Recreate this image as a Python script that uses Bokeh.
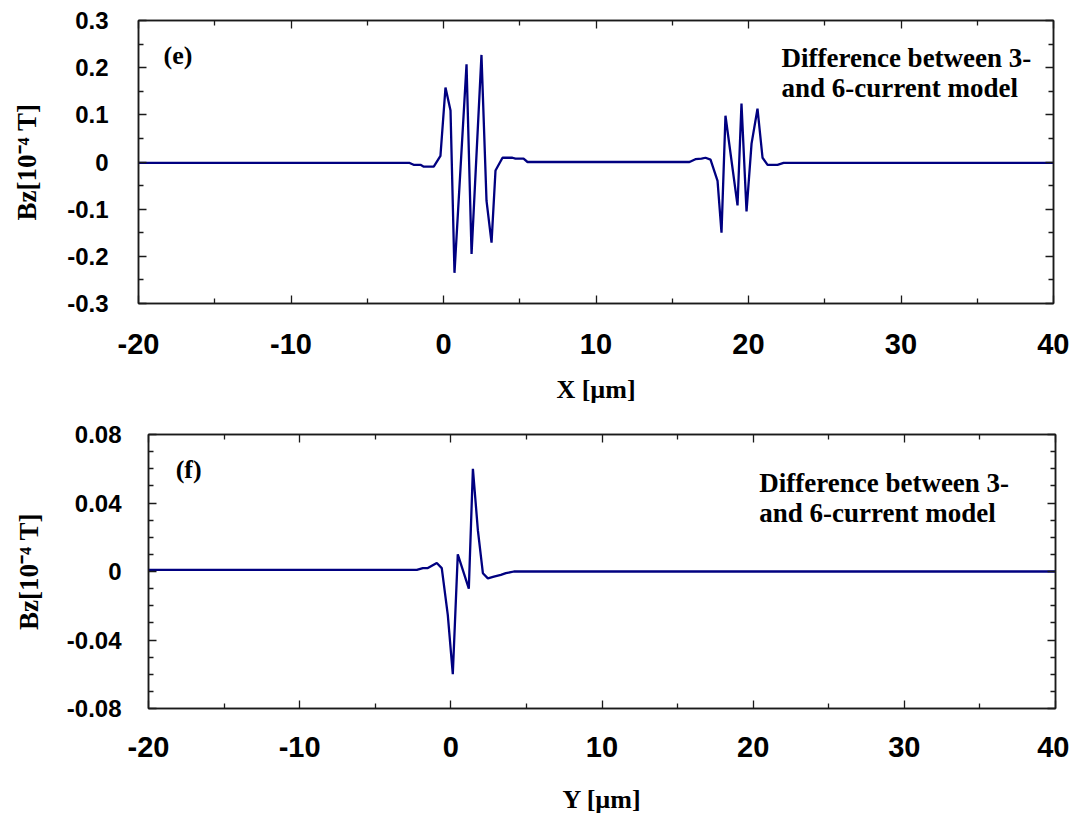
from bokeh.plotting import figure
from bokeh.models import (LinearAxis, FixedTicker, CustomJSTickFormatter,
                          Label, Range1d)
from bokeh.embed import file_html
from bokeh.resources import INLINE

# ---- data ----
x_e = [-20, -2.6, -2.22, -1.96, -1.51, -1.29, -0.64, -0.20, 0.13, 0.46, 0.72, 1.51, 1.84,
       2.49, 2.82, 3.15, 3.41, 3.87, 4.52, 4.72, 5.25, 5.51,
       16.13, 16.52, 16.92, 17.18, 17.51, 17.97, 18.23, 18.49, 19.28, 19.54, 19.87,
       20.20, 20.59, 20.92, 21.25, 21.90, 22.30, 40]
bz_e = [-0.002, -0.002, -0.002, -0.006, -0.006, -0.010, -0.010, 0.013, 0.158, 0.109, -0.235, 0.207, -0.195,
        0.227, -0.082, -0.171, -0.018, 0.009, 0.009, 0.007, 0.007, 0.0,
        0.0, 0.006, 0.007, 0.009, 0.005, -0.040, -0.150, 0.098, -0.092, 0.124, -0.105,
        0.039, 0.113, 0.009, -0.006, -0.006, -0.002, -0.002]

y_f = [-20, -2.25, -1.85, -1.52, -0.93, -0.60, -0.20, 0.13, 0.46, 1.19, 1.46, 1.79,
       2.12, 2.45, 2.85, 3.31, 3.64, 4.17, 40]
bz_f = [0.001, 0.001, 0.002, 0.002, 0.005, 0.002, -0.0255, -0.060, 0.010, -0.010, 0.060, 0.024,
        -0.001, -0.004, -0.003, -0.002, -0.001, 0.0, 0.0]

# tick values and labels
x_major = [-20, -10, 0, 10, 20, 30, 40]
x_minor = [-15, -5, 5, 15, 25, 35]
e_y_major = [-0.3, -0.2, -0.1, 0, 0.1, 0.2, 0.3]
e_y_minor = [-0.25, -0.15, -0.05, 0.05, 0.15, 0.25]
f_y_major = [-0.08, -0.04, 0, 0.04, 0.08]
f_y_minor = [-0.07, -0.06, -0.05, -0.03, -0.02, -0.01, 0.01, 0.02, 0.03, 0.05, 0.06, 0.07]

LINE = "#000080"
AX = "#1a1a1a"
SANS = "Liberation Sans"
SERIF = "Liberation Serif"


def style_axis(ax, font_size, standoff):
    ax.axis_line_color = AX
    ax.axis_line_width = 1.5
    ax.major_tick_line_color = AX
    ax.minor_tick_line_color = AX
    ax.major_tick_line_width = 1.3
    ax.minor_tick_line_width = 1.3
    ax.major_tick_in = 8
    ax.major_tick_out = 0
    ax.minor_tick_in = 5
    ax.minor_tick_out = 0
    ax.major_label_text_font = SANS
    ax.major_label_text_font_style = "bold"
    ax.major_label_text_font_size = font_size
    ax.major_label_text_color = "black"
    ax.major_label_standoff = standoff


def mirror(p, loc, ticker):
    ax = LinearAxis(ticker=ticker,
                    formatter=CustomJSTickFormatter(code='return "";'))
    style_axis(ax, "0px", 0)
    ax.axis_label = None
    ax.axis_label_standoff = 0
    p.add_layout(ax, loc)


def make_fig(xs, ys, width, height, bl, br, bt, bb, yr, ymaj, ymin, ydigits, ylabel, xlabel,
             xstand, xlstand, ystand, ylstand):
    p = figure(width=width, height=height, output_backend="svg", toolbar_location=None,
               x_range=Range1d(-20, 40), y_range=Range1d(*yr),
               min_border_left=bl, min_border_right=br, min_border_top=bt,
               min_border_bottom=bb)
    p.xgrid.visible = False
    p.ygrid.visible = False
    p.outline_line_color = AX
    p.outline_line_width = 1.5
    p.background_fill_color = "white"
    p.border_fill_color = "white"

    xt = FixedTicker(ticks=x_major, minor_ticks=x_minor)
    yt = FixedTicker(ticks=ymaj, minor_ticks=ymin)

    xa = p.xaxis[0]
    xa.ticker = xt
    xa.formatter = CustomJSTickFormatter(code='return tick.toFixed(0);')
    style_axis(xa, "29px", xstand)
    xa.axis_label = xlabel
    xa.axis_label_text_font = SERIF
    xa.axis_label_text_font_style = "bold"
    xa.axis_label_text_font_size = "26px"
    xa.axis_label_text_color = "black"
    xa.axis_label_standoff = xlstand

    ya = p.yaxis[0]
    ya.ticker = yt
    ya.formatter = CustomJSTickFormatter(
        code='return Math.abs(tick) < 1e-9 ? "0" : tick.toFixed(%d);' % ydigits)
    style_axis(ya, "24px", ystand)
    ya.axis_label = ylabel
    ya.axis_label_text_font = SERIF
    ya.axis_label_text_font_style = "bold"
    ya.axis_label_text_font_size = "27px"
    ya.axis_label_text_color = "black"
    ya.axis_label_standoff = ylstand

    mirror(p, "right", yt)
    mirror(p, "above", xt)

    p.line(xs, ys, line_color=LINE, line_width=2.3)
    return p


p1 = make_fig(x_e, bz_e, 1069, 418, 138, 16, 20, 115, (-0.3, 0.3), e_y_major, e_y_minor, 1,
              "Bz[10⁻⁴ T]", "X [µm]", 30, 18, 30, 22)
p2 = make_fig(y_f, bz_f, 1069, 402, 148, 14, 16, 112, (-0.08, 0.08), f_y_major, f_y_minor, 2,
              "Bz[10⁻⁴ T]", "Y [µm]", 28, 25, 27, 20)


def lab(p, x, y, text, size):
    p.add_layout(Label(x=x, y=y, text=text, text_font=SERIF, text_font_style="bold",
                       text_font_size=size, text_baseline="middle", text_color="black"))


lab(p1, -18.36, 0.226, "(e)", "26px")
lab(p1, 22.16, 0.2215, "Difference between 3-", "27px")
lab(p1, 22.16, 0.156, "and 6-current model", "27px")

lab(p2, -18.2, 0.0597, "(f)", "26px")
lab(p2, 20.4, 0.0516, "Difference between 3-", "27px")
lab(p2, 20.4, 0.0342, "and 6-current model", "27px")

open("out.html", "w").write(file_html([p1, p2], INLINE))
